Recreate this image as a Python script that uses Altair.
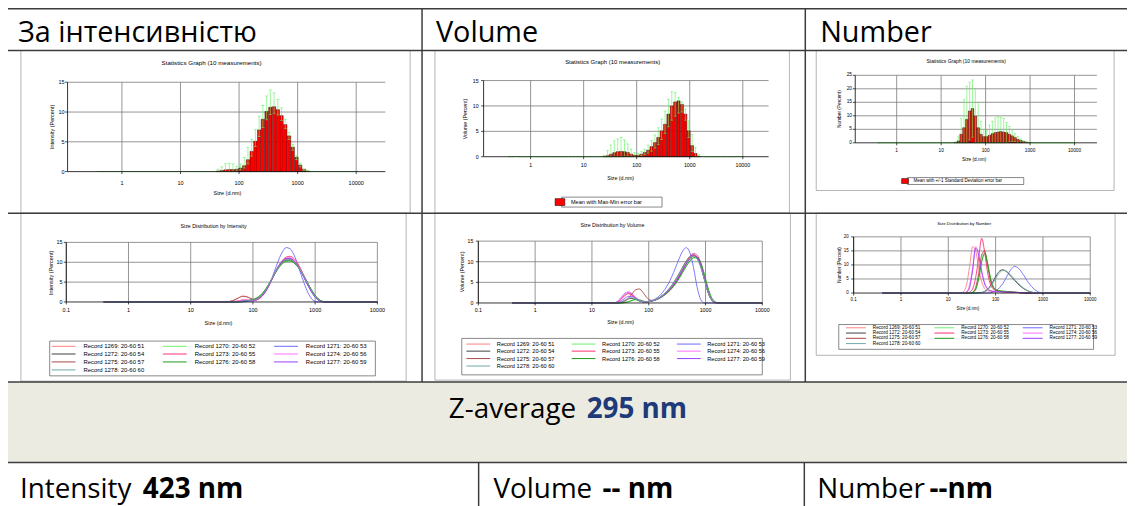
import altair as alt
import pandas as pd

# ---------------- layout constants (image px -> chart px) ----------------
OX, OY = 8, 8
W, H = 1127, 498
SF = "Liberation Sans"
HF = "Open Sans"
GRID = "#7a7a7a"
GREEN = "#5cf25c"

# ---------------- data ----------------
SIZES = [0.4, 0.4632, 0.5365, 0.6213, 0.7195, 0.8332, 0.9649, 1.117, 1.294, 1.499,
         1.736, 2.010, 2.328, 2.696, 3.122, 3.615, 4.187, 4.849, 5.615, 6.503,
         7.531, 8.721, 10.10, 11.70, 13.54, 15.69, 18.17, 21.04, 24.36, 28.21,
         32.67, 37.84, 43.82, 50.75, 58.77, 68.06, 78.82, 91.28, 105.7, 122.4,
         141.8, 164.2, 190.1, 220.2, 255.0, 295.3, 342.0, 396.1, 458.7, 531.2,
         615.1, 712.4, 825.0, 955.4, 1106, 1281, 1484, 1718, 1990, 2305,
         2669, 3091, 3580, 4145, 4801, 5560, 6439, 7456, 8635, 10000]

# Statistics graph - intensity
INT_BINS = [43.82, 50.75, 58.77, 68.06, 78.82, 91.28, 105.7, 122.4, 141.8, 164.2, 190.1, 220.2, 255.0,
            295.3, 342.0, 396.1, 458.7, 531.2, 615.1, 712.4, 825.0, 955.4, 1106, 1281, 1484]
INT_MEAN = [0.1, 0.2, 0.3, 0.35, 0.35, 0.4, 0.6, 1.0, 2.0, 3.4, 5.1, 7.0, 8.8,
            10.1, 10.8, 10.9, 10.4, 9.4, 7.9, 6.0, 4.1, 2.4, 1.1, 0.4, 0.1]
INT_MAX = [0.4, 0.8, 1.3, 1.4, 1.3, 0.9, 1.3, 2.4, 4.1, 5.4, 7.1, 9.3, 11.1,
           12.7, 13.7, 13.2, 12.1, 10.7, 8.8, 6.6, 4.6, 2.7, 1.4, 0.4, 0.15]
INT_MIN = [0, 0, 0, 0, 0, 0.1, 0.3, 0.6, 1.3, 2.6, 4.2, 5.9, 7.4,
           8.7, 9.6, 9.8, 9.5, 8.6, 7.2, 5.4, 3.6, 2.0, 0.8, 0.2, 0]

# Statistics graph - volume
VOL_BINS = [24.36, 28.21, 32.67, 37.84, 43.82, 50.75, 58.77, 68.06, 78.82, 91.28, 105.7, 122.4, 141.8,
            164.2, 190.1, 220.2, 255.0, 295.3, 342.0, 396.1, 458.7, 531.2, 615.1, 712.4, 825.0, 955.4,
            1106, 1281, 1484, 1718]
VOL_MEAN = [0.05, 0.2, 0.5, 0.8, 1.0, 1.05, 1.0, 0.85, 0.5, 0.3, 0.3, 0.5, 0.85,
            1.3, 2.0, 2.8, 3.8, 5.1, 6.4, 8.4, 10.0, 10.8, 11.0, 10.3, 8.4, 5.1,
            2.2, 0.65, 0.1, 0]
VOL_MAX = [0.3, 1.2, 2.3, 3.1, 3.5, 3.8, 3.3, 2.5, 1.5, 0.8, 0.7, 1.0, 1.5,
           2.3, 3.2, 4.3, 5.7, 7.4, 9.0, 11.3, 12.8, 12.6, 11.7, 10.8, 9.4, 7.1,
           4.4, 1.8, 0.4, 0.05]
VOL_MIN = [0, 0, 0, 0, 0, 0, 0.1, 0.1, 0.1, 0.1, 0.1, 0.2, 0.4,
           0.7, 1.1, 1.7, 2.4, 3.4, 4.6, 5.9, 7.2, 8.0, 8.6, 8.8, 7.2, 3.8,
           1.0, 0.1, 0, 0]

# Statistics graph - number
NUM_BINS = [18.17, 21.04, 24.36, 28.21, 32.67, 37.84, 43.82, 50.75, 58.77, 68.06, 78.82, 91.28, 105.7,
            122.4, 141.8, 164.2, 190.1, 220.2, 255.0, 295.3, 342.0, 396.1, 458.7, 531.2, 615.1, 712.4,
            825.0, 955.4, 1106]
NUM_MEAN = [0, 0.1, 0.7, 3.2, 5.6, 8.7, 11.8, 12.7, 9.9, 5.6, 3.2, 2.3, 2.3,
            2.8, 3.4, 3.8, 4.0, 4.2, 4.0, 3.8, 3.2, 2.6, 2.0, 1.3, 0.9, 0.5,
            0.25, 0.1, 0]
NUM_SDHI = [0, 0.3, 2.5, 9.0, 16.0, 21.0, 22.5, 23.3, 20.0, 15.0, 8.0, 5.0, 4.5,
            6.5, 8.0, 9.2, 9.6, 9.4, 9.0, 7.5, 6.0, 4.8, 3.5, 2.4, 1.4, 0.8,
            0.4, 0.15, 0]
NUM_SDLO = [0, 0, 0, 0, 0, 0, 1.1, 2.1, 0, 0, 0, 0, 0.1,
            0, 0, 0, 0, 0, 0, 0.1, 0.4, 0.4, 0.5, 0.2, 0.4, 0.2,
            0.1, 0.05, 0]

RECORDS = ["Record 1269: 20-60 51", "Record 1270: 20-60 52", "Record 1271: 20-60 53",
           "Record 1272: 20-60 54", "Record 1273: 20-60 55", "Record 1274: 20-60 56",
           "Record 1275: 20-60 57", "Record 1276: 20-60 58", "Record 1277: 20-60 59",
           "Record 1278: 20-60 60"]
REC_COLORS = ["#ff8080", "#70f070", "#6a6aff", "#404040", "#ff3070",
              "#ff70ff", "#a84848", "#1a9a1a", "#9a40ff", "#70a8a8"]

# Size distribution by intensity (on INT_BINS)
I_1269 = [0.2, 0.6, 1.1, 1.5, 1.4, 0.9, 0.6, 0.9, 1.8, 3.2, 5.0, 7.0, 8.8, 10.2, 10.9, 11.0, 10.3, 9.0, 7.2, 5.2, 3.3, 1.7, 0.6, 0.1, 0]
I_1270 = [0, 0, 0, 0.1, 0.2, 0.4, 0.7, 1.2, 2.1, 3.5, 5.2, 7.0, 8.6, 9.8, 10.4, 10.4, 9.8, 8.7, 7.2, 5.4, 3.6, 2.0, 0.8, 0.2, 0]
I_1271 = [0, 0, 0, 0, 0.1, 0.2, 0.4, 0.8, 1.6, 3.0, 5.0, 7.6, 10.3, 12.5, 13.7, 13.4, 11.8, 9.2, 6.2, 3.5, 1.4, 0.3, 0, 0, 0]
I_1272 = [0, 0, 0.1, 0.2, 0.3, 0.4, 0.6, 1.0, 1.9, 3.3, 5.1, 7.0, 8.7, 9.9, 10.5, 10.6, 10.0, 8.9, 7.4, 5.6, 3.7, 2.0, 0.8, 0.2, 0]
I_1273 = [0, 0.1, 0.3, 0.5, 0.5, 0.4, 0.4, 0.7, 1.5, 2.9, 4.8, 6.9, 8.9, 10.4, 11.3, 11.5, 10.9, 9.6, 7.7, 5.5, 3.4, 1.7, 0.6, 0.1, 0]
I_1274 = [0, 0.1, 0.3, 0.5, 0.6, 0.5, 0.5, 0.8, 1.6, 3.0, 4.9, 7.0, 8.9, 10.3, 11.0, 11.1, 10.5, 9.2, 7.4, 5.3, 3.3, 1.7, 0.6, 0.1, 0]
I_1275 = [0.2, 0.5, 1.0, 1.4, 1.3, 0.9, 0.6, 0.9, 1.7, 3.1, 4.9, 6.9, 8.7, 10.1, 10.8, 10.9, 10.3, 9.1, 7.3, 5.3, 3.4, 1.8, 0.7, 0.1, 0]
I_1276 = [0, 0, 0, 0.1, 0.3, 0.5, 0.8, 1.3, 2.2, 3.5, 5.1, 6.8, 8.4, 9.6, 10.2, 10.3, 9.8, 8.8, 7.3, 5.5, 3.7, 2.1, 0.9, 0.2, 0]
I_1277 = [0, 0, 0.1, 0.2, 0.3, 0.3, 0.4, 0.8, 1.6, 3.0, 4.9, 7.0, 8.9, 10.3, 11.0, 11.0, 10.3, 9.0, 7.2, 5.1, 3.2, 1.6, 0.5, 0.1, 0]
I_1278 = [0, 0, 0.1, 0.2, 0.3, 0.4, 0.6, 1.0, 1.9, 3.3, 5.1, 7.0, 8.7, 10.0, 10.6, 10.7, 10.1, 9.0, 7.4, 5.5, 3.6, 1.9, 0.7, 0.1, 0]
INT_RECORDS = [I_1269, I_1270, I_1271, I_1272, I_1273, I_1274, I_1275, I_1276, I_1277, I_1278]

# Size distribution by volume (on VOL_BINS)
V_1269 = [0, 0.3, 1.0, 1.8, 2.2, 1.9, 1.2, 0.6, 0.3, 0.3, 0.4, 0.6, 1.0, 1.5, 2.2, 3.0, 4.0, 5.2, 6.6, 8.1, 9.6, 10.8, 11.4, 11.0, 9.2, 6.0, 2.8, 0.8, 0.1, 0]
V_1270 = [0, 0, 0, 0.1, 0.3, 0.6, 0.7, 0.5, 0.3, 0.3, 0.4, 0.6, 1.0, 1.5, 2.1, 2.8, 3.7, 4.8, 6.1, 7.6, 9.0, 10.2, 10.9, 10.8, 9.3, 6.4, 3.2, 1.0, 0.2, 0]
V_1271 = [0, 0.4, 1.3, 2.3, 2.6, 2.1, 1.3, 0.6, 0.3, 0.3, 0.5, 0.8, 1.3, 2.1, 3.2, 4.6, 6.4, 8.5, 10.7, 12.6, 13.4, 12.2, 8.6, 3.8, 0.8, 0, 0, 0, 0, 0]
V_1272 = [0, 0, 0.2, 0.6, 1.0, 1.1, 0.9, 0.5, 0.3, 0.3, 0.4, 0.6, 1.0, 1.6, 2.3, 3.2, 4.3, 5.6, 7.1, 8.7, 10.2, 11.3, 11.7, 11.0, 8.9, 5.7, 2.6, 0.7, 0.1, 0]
V_1273 = [0, 0.2, 0.9, 1.8, 2.3, 2.0, 1.3, 0.6, 0.3, 0.3, 0.4, 0.6, 0.9, 1.4, 2.0, 2.8, 3.8, 5.0, 6.5, 8.1, 9.8, 11.2, 12.0, 11.6, 9.5, 6.1, 2.8, 0.8, 0.1, 0]
V_1274 = [0, 0.3, 1.2, 2.2, 2.7, 2.3, 1.4, 0.6, 0.3, 0.3, 0.4, 0.6, 1.0, 1.5, 2.1, 2.9, 3.9, 5.1, 6.5, 8.0, 9.6, 10.9, 11.6, 11.2, 9.2, 5.9, 2.7, 0.8, 0.1, 0]
V_1275 = [0, 0, 0.1, 0.4, 1.1, 2.2, 3.2, 3.4, 2.6, 1.4, 0.7, 0.6, 0.9, 1.4, 2.0, 2.8, 3.7, 4.9, 6.3, 7.9, 9.5, 10.8, 11.5, 11.1, 9.1, 5.9, 2.7, 0.8, 0.1, 0]
V_1276 = [0, 0, 0, 0.1, 0.3, 0.6, 0.9, 0.8, 0.5, 0.3, 0.4, 0.6, 0.9, 1.3, 1.9, 2.6, 3.5, 4.6, 5.9, 7.4, 8.9, 10.2, 11.0, 11.1, 9.8, 7.0, 3.7, 1.3, 0.3, 0]
V_1277 = [0, 0.1, 0.5, 1.1, 1.6, 1.6, 1.1, 0.6, 0.3, 0.3, 0.4, 0.6, 1.0, 1.5, 2.1, 2.9, 3.9, 5.1, 6.5, 8.0, 9.5, 10.8, 11.4, 11.0, 9.1, 6.0, 2.8, 0.8, 0.1, 0]
V_1278 = [0, 0, 0.2, 0.6, 1.1, 1.3, 1.0, 0.6, 0.3, 0.3, 0.4, 0.6, 1.0, 1.5, 2.2, 3.1, 4.2, 5.5, 7.0, 8.6, 10.0, 11.0, 11.3, 10.6, 8.6, 5.6, 2.6, 0.8, 0.1, 0]
VOL_RECORDS = [V_1269, V_1270, V_1271, V_1272, V_1273, V_1274, V_1275, V_1276, V_1277, V_1278]

# Size distribution by number (on NUM_BINS)
N_1269 = [0, 0.5, 3.0, 9.5, 16.5, 15.0, 9.0, 4.0, 1.6, 0.8, 0.6, 0.5, 0.5, 0.5, 0.4, 0.4, 0.3, 0.3, 0.2, 0.2, 0.1, 0.1, 0, 0, 0, 0, 0, 0, 0]
N_1270 = [0, 0, 0, 0, 0.2, 1.5, 5.5, 11.5, 14.5, 10.0, 4.5, 1.8, 1.0, 0.7, 0.6, 0.5, 0.4, 0.3, 0.3, 0.2, 0.1, 0.1, 0, 0, 0, 0, 0, 0, 0]
N_1271 = [0, 0, 0, 0, 0, 0, 0, 0, 0, 0, 0.1, 0.4, 1.0, 2.0, 3.4, 5.2, 7.2, 8.8, 9.5, 9.0, 7.8, 6.2, 4.5, 3.0, 1.8, 0.9, 0.3, 0.1, 0]
N_1272 = [0, 0, 0, 0, 0, 0, 0.1, 0.2, 0.6, 1.4, 2.8, 4.6, 6.5, 7.9, 8.3, 7.8, 6.8, 5.6, 4.4, 3.3, 2.3, 1.5, 0.9, 0.5, 0.2, 0.1, 0, 0, 0]
N_1273 = [0, 0, 0, 0.3, 1.5, 5.5, 12.5, 19.5, 14.5, 7.0, 2.8, 1.3, 0.8, 0.6, 0.5, 0.5, 0.4, 0.3, 0.3, 0.2, 0.1, 0.1, 0, 0, 0, 0, 0, 0, 0]
N_1274 = [0, 0, 0.5, 3.0, 9.0, 16.5, 14.0, 8.0, 3.5, 1.5, 0.8, 0.6, 0.5, 0.5, 0.4, 0.4, 0.3, 0.3, 0.2, 0.2, 0.1, 0.1, 0, 0, 0, 0, 0, 0, 0]
N_1275 = [0, 0, 0, 0, 0.3, 2.0, 7.0, 13.5, 15.0, 9.5, 4.0, 1.6, 0.9, 0.6, 0.5, 0.4, 0.4, 0.3, 0.2, 0.2, 0.1, 0.1, 0, 0, 0, 0, 0, 0, 0]
N_1276 = [0, 0, 0, 0, 0.2, 1.2, 5.0, 11.0, 14.0, 10.5, 5.0, 2.0, 1.1, 0.8, 0.7, 0.6, 0.5, 0.4, 0.3, 0.2, 0.1, 0.1, 0, 0, 0, 0, 0, 0, 0]
N_1277 = [0, 0, 0.3, 2.0, 8.0, 16.0, 13.5, 7.5, 3.2, 1.4, 0.8, 0.6, 0.5, 0.5, 0.4, 0.4, 0.3, 0.3, 0.2, 0.2, 0.1, 0.1, 0, 0, 0, 0, 0, 0, 0]
N_1278 = [0, 0, 0, 0, 0, 0, 0, 0.1, 0.4, 1.1, 2.3, 4.0, 5.8, 7.3, 8.0, 7.9, 7.1, 6.0, 4.8, 3.6, 2.6, 1.7, 1.0, 0.5, 0.2, 0.1, 0, 0, 0]
NUM_RECORDS = [N_1269, N_1270, N_1271, N_1272, N_1273, N_1274, N_1275, N_1276, N_1277, N_1278]

TOP_TICKS = [1, 10, 100, 1000, 10000]
TOP_LABELS = ["1", "10", "100", "1000", "10000"]
BOT_TICKS = [0.1, 1, 10, 100, 1000, 10000]
BOT_LABELS = ["0.1", "1", "10", "100", "1000", "10000"]

# ---------------- geometry (image pixel positions) ----------------
G1 = dict(x0=68, x1=388, xdom=[0.118, 31400], y0=171, y1=81, ymax=15, yticks=[0, 5, 10, 15],
          xlab=182, ylab=65, xt=(229, 193), yt=(52, 126), fs=5.5, bw=3.4, cap=3.0)
G2 = dict(x0=487, x1=774, xdom=[0.13, 30600], y0=156, y1=79.3, ymax=15, yticks=[0, 5, 10, 15],
          xlab=164, ylab=482, xt=(625, 177), yt=(468, 118), fs=5.3, bw=3.1, cap=2.8)
G3 = dict(x0=861.3, x1=1104.7, xdom=[0.117, 31900], y0=142, y1=74, ymax=25, yticks=[0, 5, 10, 15, 20, 25],
          xlab=150, ylab=858, xt=(981, 159), yt=(846, 108), fs=4.8, bw=2.6, cap=2.4)
G4 = dict(x0=66.7, x1=380, xdom=[0.1, 10000], y0=302.3, y1=242.3, ymax=15, yticks=[0, 5, 10, 15],
          xlab=310.7, ylab=63, xt=(220, 323.3), yt=(51, 273), fs=5.5)
G5 = dict(x0=481.7, x1=767.7, xdom=[0.1, 10000], y0=303.3, y1=241, ymax=15, yticks=[0, 5, 10, 15],
          xlab=310, ylab=476.7, xt=(625, 322.3), yt=(465, 272), fs=5.3)
G6 = dict(x0=859.7, x1=1098, xdom=[0.1, 10000], y0=293.3, y1=236.7, ymax=20, yticks=[0, 5, 10, 15, 20],
          xlab=300, ylab=854.7, xt=(974.7, 309.3), yt=(846.3, 265), fs=4.5)


def full(bins, vals):
    m = dict(zip(bins, vals))
    return [m.get(s, 0.0) for s in SIZES]


def xscale(g):
    return alt.Scale(type="log", domain=g["xdom"], range=[g["x0"] - OX, g["x1"] - OX], nice=False, padding=0)


def yscale(g):
    return alt.Scale(type="linear", domain=[0, g["ymax"]], range=[g["y0"] - OY, g["y1"] - OY],
                     nice=False, padding=0)


def txt(s, x, y, size, font=SF, weight="normal", color="black", align="center", baseline="middle", angle=0):
    return alt.Chart(pd.DataFrame({"t": [s]})).mark_text(
        font=font, fontSize=size, fontWeight=weight, color=color, align=align, baseline=baseline,
        angle=angle).encode(x=alt.value(x - OX), y=alt.value(y - OY), text="t:N")


def frame_axes(g, xs, ys, xticks, xlabels, ytitle):
    """grid lines, axis lines, ticks, tick labels and titles of one small graph"""
    fs = g["fs"]
    lo, hi = g["xdom"]
    vg = alt.Chart(pd.DataFrame({"v": xticks})).mark_rule(color=GRID, strokeWidth=0.8).encode(
        x=alt.X("v:Q", scale=xs, axis=None),
        y=alt.YDatum(0, scale=ys, axis=None), y2=alt.datum(g["ymax"]))
    hg = alt.Chart(pd.DataFrame({"h": g["yticks"][1:]})).mark_rule(color=GRID, strokeWidth=0.8).encode(
        y=alt.Y("h:Q", scale=ys, axis=None),
        x=alt.XDatum(lo, scale=xs, axis=None), x2=alt.datum(hi))
    xdom = alt.Chart(pd.DataFrame({"k": [0]})).mark_rule(color="black", strokeWidth=0.8).encode(
        x=alt.XDatum(lo, scale=xs, axis=None), x2=alt.datum(hi),
        y=alt.YDatum(0, scale=ys, axis=None))
    ydom = alt.Chart(pd.DataFrame({"k": [0]})).mark_rule(color="black", strokeWidth=0.8).encode(
        x=alt.XDatum(lo, scale=xs, axis=None),
        y=alt.YDatum(0, scale=ys, axis=None), y2=alt.datum(g["ymax"]))
    xt = alt.Chart(pd.DataFrame({"v": xticks})).mark_rule(color="black", strokeWidth=0.7).encode(
        x=alt.X("v:Q", scale=xs, axis=None),
        y=alt.YDatum(0, scale=ys, axis=None), y2=alt.value(g["y0"] - OY + 2.5))
    yt = alt.Chart(pd.DataFrame({"v": g["yticks"]})).mark_rule(color="black", strokeWidth=0.7).encode(
        y=alt.Y("v:Q", scale=ys, axis=None),
        x=alt.XDatum(lo, scale=xs, axis=None), x2=alt.value(g["x0"] - OX - 2.5))
    xl = alt.Chart(pd.DataFrame({"v": xticks, "lab": xlabels})).mark_text(
        font=SF, fontSize=fs, color="black", baseline="middle", align="center").encode(
        x=alt.X("v:Q", scale=xs, axis=None), y=alt.value(g["xlab"] - OY), text="lab:N")
    yl = alt.Chart(pd.DataFrame({"v": g["yticks"], "lab": [str(t) for t in g["yticks"]]})).mark_text(
        font=SF, fontSize=fs, color="black", baseline="middle", align="right").encode(
        y=alt.Y("v:Q", scale=ys, axis=None), x=alt.value(g["ylab"] - OX), text="lab:N")
    tx = txt("Size (d.nm)", g["xt"][0], g["xt"][1], fs)
    ty = txt(ytitle, g["yt"][0], g["yt"][1], fs, angle=270)
    return [vg, hg, xdom, ydom, xt, yt, xl, yl, tx, ty]


def stats_chart(g, bins, mean, lo, hi, ytitle, label, leg):
    df = pd.DataFrame({"size": SIZES, "mean": full(bins, mean), "lo": full(bins, lo),
                       "hi": full(bins, hi), "series": label})
    xs, ys = xscale(g), yscale(g)
    parts = frame_axes(g, xs, ys, TOP_TICKS, TOP_LABELS, ytitle)
    legend = None
    if leg is not None:
        legend = alt.Legend(orient="none", legendX=leg["x"] - OX, legendY=leg["y"] - OY, title=None,
                            symbolType="M-1.4,-1H1.4V1H-1.4Z", symbolSize=leg["ss"],
                            symbolStrokeColor="black", symbolStrokeWidth=0.5,
                            labelFont=SF, labelFontSize=leg["fs"], labelColor="black",
                            labelOffset=leg["lo"], padding=0, labelLimit=0)
    bars = alt.Chart(df).transform_filter("datum.mean > 0").mark_bar(
        orient="vertical", size=g["bw"], stroke="black", strokeWidth=0.4).encode(
        x=alt.X("size:Q", scale=xs, axis=None),
        y=alt.Y("mean:Q", scale=ys, axis=None), y2=alt.datum(0),
        color=alt.Color("series:N", scale=alt.Scale(domain=[label], range=["#ff0000"]), legend=legend))
    err = alt.Chart(df).transform_filter("datum.hi > datum.lo").mark_rule(
        color=GREEN, strokeWidth=0.6).encode(
        x=alt.X("size:Q", scale=xs, axis=None),
        y=alt.Y("lo:Q", scale=ys, axis=None), y2="hi:Q")
    cap_hi = alt.Chart(df).mark_tick(orient="horizontal", color=GREEN, size=g["cap"], thickness=0.8).encode(
        x=alt.X("size:Q", scale=xs, axis=None), y=alt.Y("hi:Q", scale=ys, axis=None))
    cap_lo = alt.Chart(df).mark_tick(orient="horizontal", color=GREEN, size=g["cap"], thickness=0.8).encode(
        x=alt.X("size:Q", scale=xs, axis=None), y=alt.Y("lo:Q", scale=ys, axis=None))
    return alt.layer(*parts[:2], bars, err, cap_hi, cap_lo, *parts[2:])


def dist_chart(g, bins, recs, ytitle, leg):
    rows = []
    for name, vals in zip(RECORDS, recs):
        for s, v in zip(SIZES, full(bins, vals)):
            rows.append({"size": s, "val": v, "rec": name})
    df = pd.DataFrame(rows)
    xs, ys = xscale(g), yscale(g)
    parts = frame_axes(g, xs, ys, BOT_TICKS, BOT_LABELS, ytitle)
    legend = alt.Legend(orient="none", legendX=leg["x"] - OX, legendY=leg["y"] - OY, title=None,
                        direction="horizontal", columns=3, symbolType="M-4,0H4", symbolSize=leg["ss"],
                        symbolStrokeWidth=1, labelFont=SF, labelFontSize=leg["fs"], labelColor="black",
                        labelOffset=leg["lo"], columnPadding=leg["cp"], rowPadding=leg["rp"],
                        padding=0, labelLimit=0)
    lines = alt.Chart(df).mark_line(strokeWidth=0.9, interpolate="monotone").encode(
        x=alt.X("size:Q", scale=xs, axis=None),
        y=alt.Y("val:Q", scale=ys, axis=None),
        color=alt.Color("rec:N", scale=alt.Scale(domain=RECORDS, range=REC_COLORS), legend=legend))
    return alt.layer(*parts[:2], lines, *parts[2:])


def rects(boxes, stroke, width, fill="transparent"):
    df = pd.DataFrame(boxes, columns=["x", "y", "x2", "y2"])
    df = df.assign(x=df.x - OX, x2=df.x2 - OX, y=df.y - OY, y2=df.y2 - OY)
    return alt.Chart(df).mark_rect(fill=fill, stroke=stroke, strokeWidth=width).encode(
        x=alt.X("x:Q", scale=None, axis=None), x2="x2:Q",
        y=alt.Y("y:Q", scale=None, axis=None), y2="y2:Q")


def rules(segs, color, width):
    df = pd.DataFrame(segs, columns=["x", "y", "x2", "y2"])
    df = df.assign(x=df.x - OX, x2=df.x2 - OX, y=df.y - OY, y2=df.y2 - OY)
    return alt.Chart(df).mark_rule(color=color, strokeWidth=width).encode(
        x=alt.X("x:Q", scale=None, axis=None), x2="x2:Q",
        y=alt.Y("y:Q", scale=None, axis=None), y2="y2:Q")


# ---------------- table decoration ----------------
bg = rects([(7, 383, 1140, 464)], None, 0, fill="#ecebe1")
frames = rects([(21, 49, 413, 213), (438, 49, 795, 213), (822, 49, 1122, 190),
                (21, 213, 409, 382), (438, 213, 796, 381), (822, 213, 1123, 356)], "#a0a0a0", 0.8)
legend_boxes = rects([(565.7, 196.7, 666.7, 206.7), (914, 177, 1031, 184),
                      (50, 341.7, 378, 376.7), (465, 339, 767.7, 375.7), (844.7, 325, 1101.3, 350)],
                     "#555555", 0.7)
table = rules([(7, 7, 1140, 7), (7, 49, 1140, 49), (7, 213, 1140, 213), (7, 383, 1140, 383),
               (7, 464, 1140, 464), (7, 7, 7, 510), (425, 7, 425, 383), (811, 7, 811, 383),
               (482, 464, 482, 510), (810, 464, 810, 510)], "#3c3c3c", 1.5)

# ---------------- charts ----------------
c1 = stats_chart(G1, INT_BINS, INT_MEAN, INT_MIN, INT_MAX, "Intensity (Percent)",
                 "Mean with Max-Min error bar", None)
c2 = stats_chart(G2, VOL_BINS, VOL_MEAN, VOL_MIN, VOL_MAX, "Volume (Percent)",
                 "Mean with Max-Min error bar", dict(x=559.9, y=197.7, ss=49, fs=5.6, lo=7.1))
c3 = stats_chart(G3, NUM_BINS, NUM_MEAN, NUM_SDLO, NUM_SDHI, "Number (Percent)",
                 "Mean with +/-1 Standard Deviation error bar", dict(x=908.5, y=177.5, ss=25, fs=4.6, lo=5.5))
c4 = dist_chart(G4, INT_BINS, INT_RECORDS, "Intensity (Percent)",
                dict(x=60.5, y=343.2, ss=36, fs=6.0, lo=16.5, cp=16, rp=1))
c5 = dist_chart(G5, VOL_BINS, VOL_RECORDS, "Volume (Percent)",
                dict(x=478.2, y=340.8, ss=36, fs=5.7, lo=15.1, cp=14, rp=0.5))
c6 = dist_chart(G6, NUM_BINS, NUM_RECORDS, "Number (Percent)",
                dict(x=859, y=325.3, ss=25, fs=4.7, lo=14, cp=12, rp=0.3))

texts = [
    txt("Statistics Graph (10 measurements)", 213, 62, 6.3),
    txt("Statistics Graph (10 measurements)", 617, 61, 6.0),
    txt("Statistics Graph (10 measurements)", 973, 60, 5.0),
    txt("Size Distribution by Intensity", 215, 225.7, 5.3),
    txt("Size Distribution by Volume", 616.7, 225, 5.3),
    txt("Size Distribution by Number", 971, 223.3, 4.4),
    txt("За інтенсивністю", 18, 40.7, 29, font=HF, align="left", baseline="alphabetic"),
    txt("Volume", 439, 40.7, 29, font=HF, align="left", baseline="alphabetic"),
    txt("Number", 826, 40.7, 29, font=HF, align="left", baseline="alphabetic"),
    txt("Z-average", 452, 419, 28, font=HF, align="left", baseline="alphabetic"),
    txt("295 nm", 692, 419, 28, font=HF, weight="bold", color="#1f3a78", align="right", baseline="alphabetic"),
    txt("Intensity", 20, 500, 28, font=HF, align="left", baseline="alphabetic"),
    txt("423 nm", 245, 500, 28, font=HF, weight="bold", align="right", baseline="alphabetic"),
    txt("Volume", 497, 500, 28, font=HF, align="left", baseline="alphabetic"),
    txt("-- nm", 678, 500, 28, font=HF, weight="bold", align="right", baseline="alphabetic"),
    txt("Number", 823, 500, 28, font=HF, align="left", baseline="alphabetic"),
    txt("--nm", 1000, 500, 28, font=HF, weight="bold", align="right", baseline="alphabetic"),
]

chart = alt.layer(bg, frames, c1, c2, c3, c4, c5, c6, legend_boxes, table, *texts).resolve_scale(
    x="independent", y="independent", color="independent"
).properties(
    width=W, height=H, autosize=alt.AutoSizeParams(type="none"), padding=0
).configure_view(stroke=None)

chart.save("out.html", embed_options={"renderer": "svg", "actions": False})
